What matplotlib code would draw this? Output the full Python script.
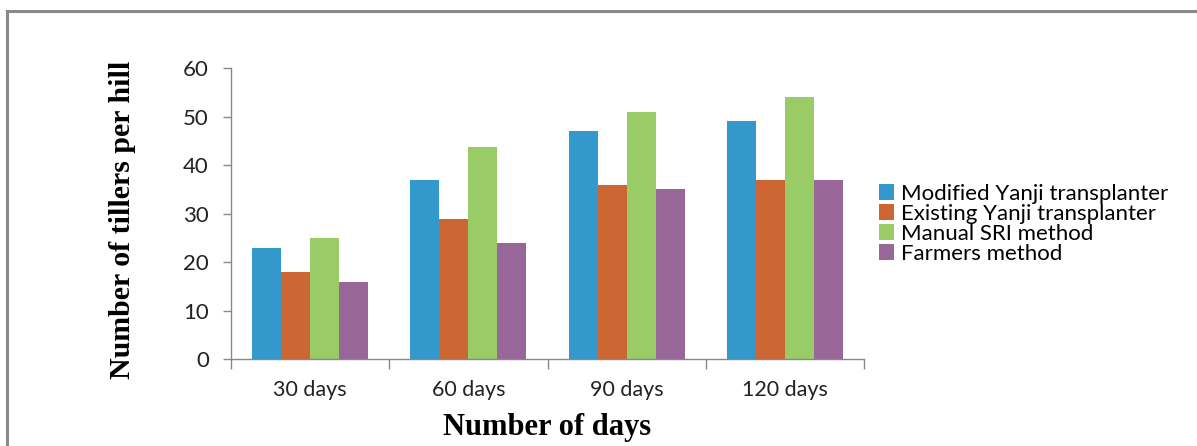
import numpy as np
import matplotlib
matplotlib.use("Agg")
from matplotlib import pyplot as plt
from matplotlib.lines import Line2D

# data
days = ["30 days", "60 days", "90 days", "120 days"]
series = ["Modified Yanji transplanter", "Existing Yanji transplanter",
          "Manual SRI method", "Farmers method"]
modified_yanji = [23, 37, 47, 49]
existing_yanji = [18, 29, 36, 37]
manual_sri = [25, 43.7, 51, 54]
farmers = [16, 24, 35, 37]
yticks = [0, 10, 20, 30, 40, 50, 60]

colors = ["#3399cc", "#cc6633", "#99cc66", "#996699"]
values = [modified_yanji, existing_yanji, manual_sri, farmers]

fig = plt.figure(figsize=(11.97, 4.46), dpi=100)
ax = fig.add_axes([0.193, 0.194, 0.5288, 0.6535])

x = np.arange(len(days))
w = 0.183
for i, (vals, col, name) in enumerate(zip(values, colors, series)):
    ax.bar(x + (i - 1.5) * w, vals, width=w, color=col, label=name, linewidth=0)

ax.set_xlim(-0.5, len(days) - 0.5)
ax.set_ylim(0, 60)
ax.set_yticks(yticks)
ax.set_xticks(np.arange(len(days) + 1) - 0.5, minor=False)
ax.set_xticklabels([])
ax.set_xticks(x, minor=True)
ax.set_xticklabels(days, minor=True)

tick_font = "Lato"
for lab in ax.get_yticklabels():
    lab.set_fontfamily(tick_font)
    lab.set_fontsize(16)
    lab.set_color("#222222")
for lab in ax.get_xticklabels(minor=True):
    lab.set_fontfamily(tick_font)
    lab.set_fontsize(15.5)
    lab.set_color("#222222")

ax.tick_params(axis="y", length=6, width=1, color="#888888", pad=10)
ax.tick_params(axis="x", which="major", length=7, width=1, color="#888888")
ax.tick_params(axis="x", which="minor", length=0, pad=15)

for s in ["top", "right"]:
    ax.spines[s].set_visible(False)
for s in ["left", "bottom"]:
    ax.spines[s].set_color("#888888")
    ax.spines[s].set_linewidth(1)

ax.set_ylabel("Number of tillers per hill", family="Liberation Serif",
              fontweight="bold", fontsize=21.5)
ax.set_xlabel("Number of days", family="Liberation Serif",
              fontweight="bold", fontsize=22, labelpad=9)
ax.yaxis.set_label_coords(-0.15, 0.478)

leg = fig.legend(loc="upper left", bbox_to_anchor=(0.7265, 0.608),
                 frameon=False, prop={"family": "Lato", "size": 16},
                 handlelength=0.7, handleheight=0.7, handletextpad=0.3,
                 labelspacing=0.0, borderaxespad=0)

# grey frame around the picture (top and left edges visible)
fig.add_artist(Line2D([0.0058, 0.0058], [0, 0.975], transform=fig.transFigure,
                      color="#8a8a8a", linewidth=2.2))
fig.add_artist(Line2D([0.0058, 1.0], [0.975, 0.975], transform=fig.transFigure,
                      color="#8a8a8a", linewidth=2.2))

fig.savefig("out.png", dpi=100)
